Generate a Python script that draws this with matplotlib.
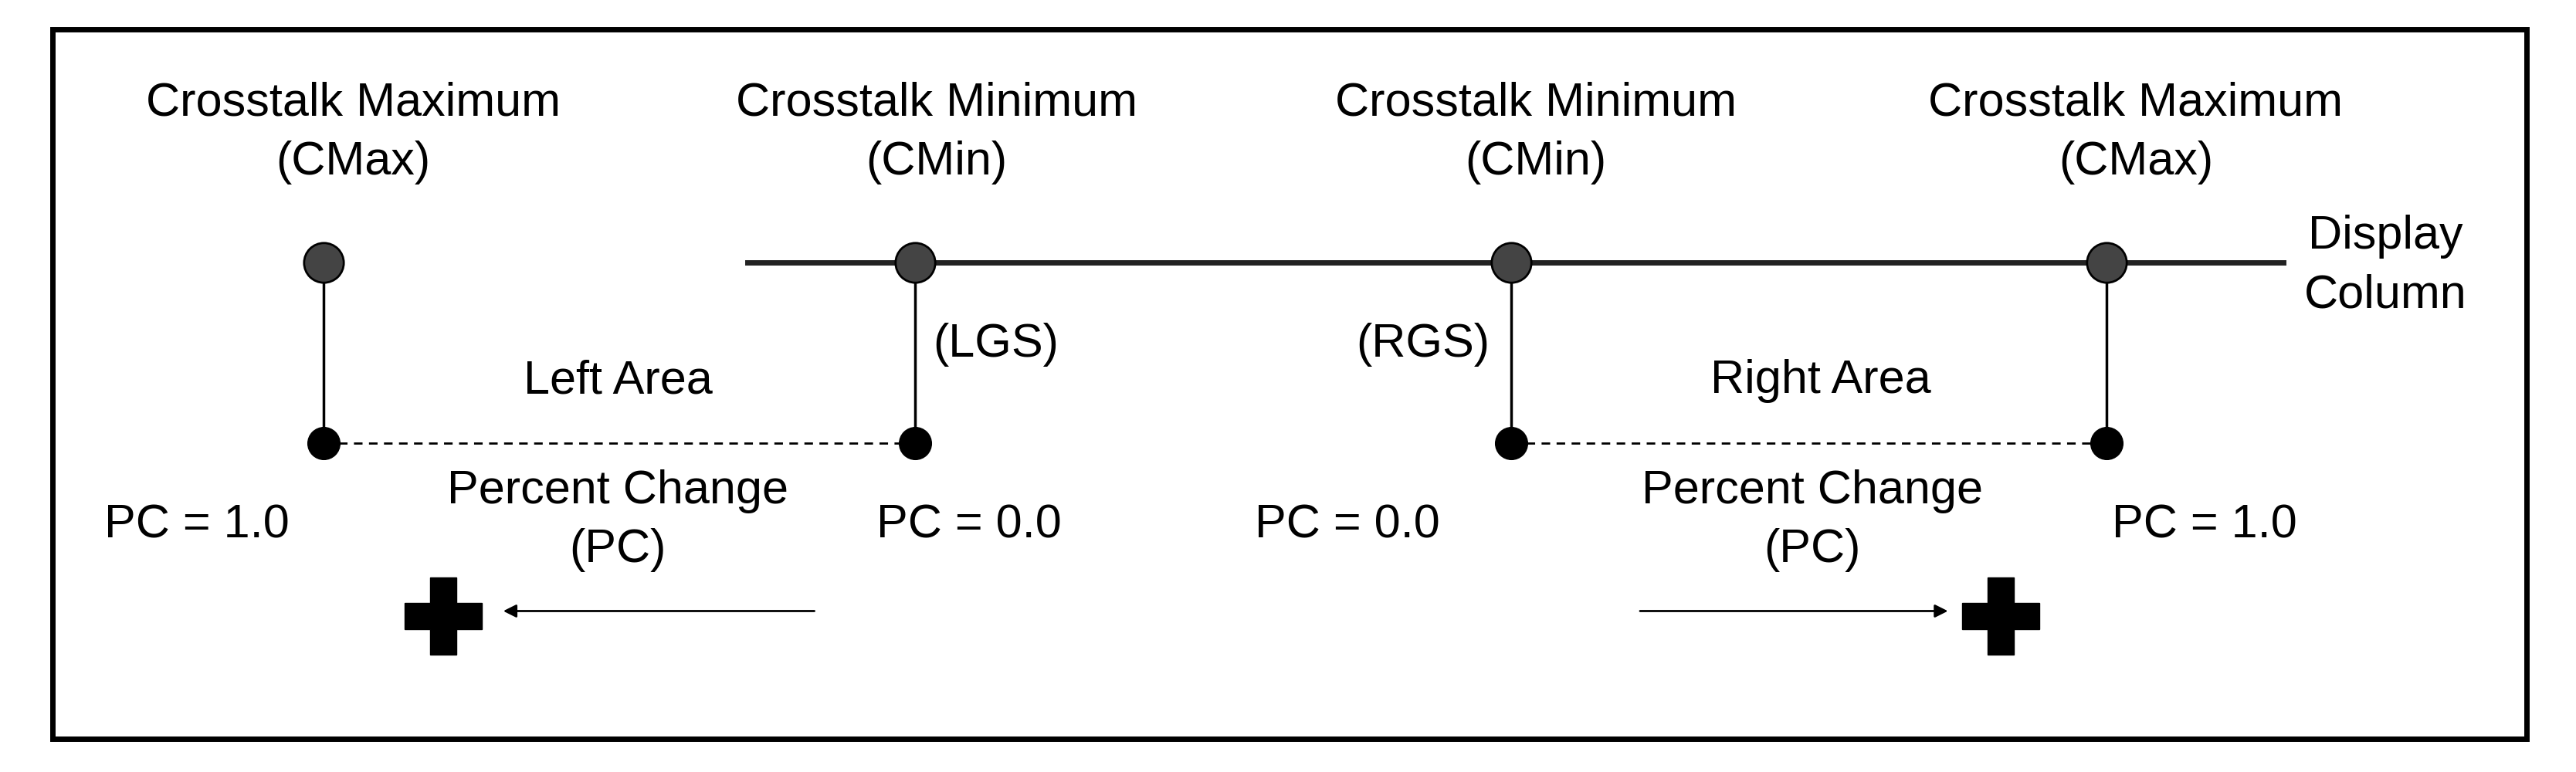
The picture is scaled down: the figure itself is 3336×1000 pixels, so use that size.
import matplotlib.pyplot as plt
from matplotlib.patches import Rectangle

plt.rcParams['font.family'] = ['Liberation Sans', 'DejaVu Sans']

# labels of the diagram
top_labels = ['Crosstalk Maximum\n(CMax)', 'Crosstalk Minimum\n(CMin)',
              'Crosstalk Minimum\n(CMin)', 'Crosstalk Maximum\n(CMax)']
pc_labels = ['PC = 1.0', 'PC = 0.0', 'PC = 0.0', 'PC = 1.0']
area_labels = ['Left Area', 'Right Area']

# layout in displayed-pixel units (image is 1568 x 470)
col_x = [197, 557, 920, 1282]
top_label_x = [215, 570, 935, 1300]
pc_x = [120, 590, 820, 1342]
y_top, y_bot = 160, 270

fig = plt.figure(figsize=(33.36, 10), dpi=100)
ax = fig.add_axes([0, 0, 1, 1])
ax.set_xlim(0, 1568)
ax.set_ylim(470, 0)
ax.axis('off')

fs = 44
ls = 1.45
ax.add_patch(Rectangle((32, 18), 1506, 432, fill=False, lw=5, ec='black'))

# display column line
ax.plot([455, 1390], [y_top, y_top], color='#222222', lw=5, zorder=2)

for x in col_x:
    ax.plot([x, x], [y_top, y_bot], color='black', lw=2.5, zorder=2)
    ax.plot(x, y_top, 'o', ms=37, mfc='#444444', mec='black', mew=2, zorder=3)
    ax.plot(x, y_bot, 'o', ms=30, mfc='black', mec='black', zorder=3)

ax.plot([col_x[0], col_x[1]], [y_bot, y_bot], '--', color='black', lw=2, dashes=(4, 3))
ax.plot([col_x[2], col_x[3]], [y_bot, y_bot], '--', color='black', lw=2, dashes=(4, 3))

for x, t in zip(top_label_x, top_labels):
    ax.text(x, 81, t, ha='center', va='center', fontsize=fs, linespacing=ls)
for x, t in zip(pc_x, pc_labels):
    ax.text(x, 320, t, ha='center', va='center', fontsize=fs)

ax.text(1452, 162, 'Display\nColumn', ha='center', va='center', fontsize=fs, linespacing=ls)
ax.text(606, 210, '(LGS)', ha='center', va='center', fontsize=fs)
ax.text(866, 210, '(RGS)', ha='center', va='center', fontsize=fs)
ax.text(376, 232, area_labels[0], ha='center', va='center', fontsize=fs)
ax.text(1108, 232, area_labels[1], ha='center', va='center', fontsize=fs)
ax.text(376, 317, 'Percent Change\n(PC)', ha='center', va='center', fontsize=fs, linespacing=ls)
ax.text(1103, 317, 'Percent Change\n(PC)', ha='center', va='center', fontsize=fs, linespacing=ls)

ax.annotate('', xy=(305, 372), xytext=(497, 372),
            arrowprops=dict(arrowstyle='-|>', color='black', lw=2, mutation_scale=25))
ax.annotate('', xy=(1187, 372), xytext=(997, 372),
            arrowprops=dict(arrowstyle='-|>', color='black', lw=2, mutation_scale=25))

ax.plot([270, 1218], [375, 375], 'P', ms=72, color='black', linestyle='none')

fig.savefig('out.png', dpi=100)
